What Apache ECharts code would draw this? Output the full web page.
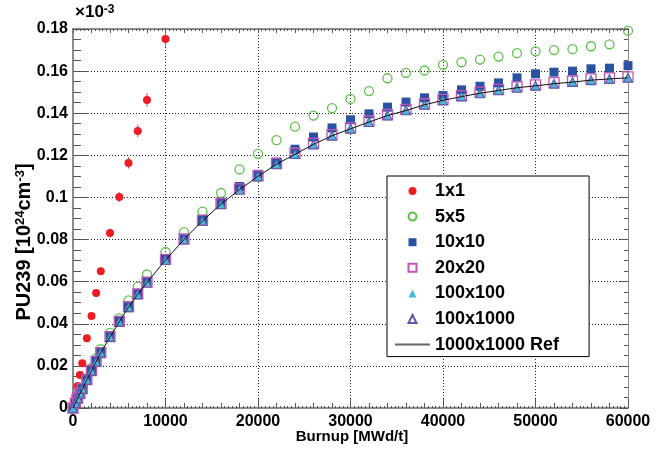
<!DOCTYPE html>
<html>
<head>
<meta charset="utf-8">
<script src="https://cdn.jsdelivr.net/npm/echarts@6/dist/echarts.min.js"></script>
<style>
html,body{margin:0;padding:0;background:#fff;}
#chart{width:661px;height:451px;}
</style>
</head>
<body>
<div id="chart"></div>
<script>
// ---- data ----
const burnup = [0,250,500,750,1000,1500,2000,2500,3000,4000,5000,6000,7000,8000,10000,
  12000,14000,16000,18000,20000,22000,24000,26000,28000,30000,32000,34000,36000,38000,40000,
  42000,44000,46000,48000,50000,52000,54000,56000,58000,60000];
const s1x1 = [0.0006,0.0057,0.0104,0.0157,0.0212,0.0331,0.0437,0.0546,0.0650,0.0831,0.1002,0.1164,0.1316,0.1463,0.1753];
const s1x1Err = [0.0002,0.0004,0.0006,0.0008,0.0009,0.0012,0.0014,0.0016,0.0018,0.0021,0.0024,0.0027,0.0030,0.0033,0.0036];
const s5x5 = [0,0.0025,0.0050,0.0073,0.0096,0.0142,0.0190,0.0235,0.0279,0.0357,0.0426,0.0511,0.0576,0.0634,0.0741,
  0.0835,0.0933,0.1021,0.1133,0.1207,0.1272,0.1336,0.1389,0.1424,0.1468,0.1505,0.1566,0.1592,0.1603,0.1630,
  0.1642,0.1655,0.1669,0.1685,0.1694,0.1700,0.1704,0.1718,0.1727,0.1792];
const s10x10 = [0,0.0023,0.0047,0.0070,0.0092,0.0135,0.0178,0.0222,0.0264,0.0340,0.0411,0.0481,0.0543,0.0600,0.0707,
  0.0803,0.0895,0.0977,0.1052,0.1110,0.1168,0.1229,0.1287,0.1330,0.1369,0.1397,0.1429,0.1453,0.1473,0.1484,
  0.1511,0.1528,0.1544,0.1568,0.1587,0.1595,0.1600,0.1611,0.1614,0.1626];
const s20x20 = [0,0.0023,0.0047,0.0070,0.0092,0.0135,0.0178,0.0221,0.0263,0.0339,0.0411,0.0481,0.0542,0.0598,0.0706,
  0.0803,0.0892,0.0972,0.1041,0.1104,0.1162,0.1210,0.1257,0.1298,0.1331,0.1363,0.1394,0.1418,0.1445,0.1466,
  0.1484,0.1500,0.1513,0.1526,0.1535,0.1545,0.1553,0.1563,0.1568,0.1573];
const s100x100 = [0,0.0023,0.0047,0.0069,0.0092,0.0134,0.0178,0.0220,0.0263,0.0338,0.0409,0.0480,0.0540,0.0597,0.0703,
  0.0801,0.0889,0.0969,0.1037,0.1101,0.1158,0.1205,0.1253,0.1294,0.1326,0.1359,0.1390,0.1413,0.1441,0.1462,
  0.1479,0.1496,0.1508,0.1522,0.1530,0.1541,0.1548,0.1558,0.1564,0.1568];
const s100x1000 = [0,0.0023,0.0046,0.0069,0.0091,0.0134,0.0177,0.0221,0.0262,0.0338,0.0410,0.0479,0.0541,0.0596,0.0704,
  0.0800,0.0890,0.0968,0.1038,0.1100,0.1158,0.1206,0.1252,0.1293,0.1327,0.1358,0.1389,0.1414,0.1440,0.1461,
  0.1480,0.1495,0.1509,0.1521,0.1531,0.1540,0.1549,0.1557,0.1563,0.1569];
const sRef = [0,0.0023,0.0047,0.0069,0.0091,0.0134,0.0177,0.0220,0.0262,0.0338,0.0409,0.0479,0.0540,0.0596,0.0703,
  0.0800,0.0889,0.0968,0.1037,0.1100,0.1158,0.1205,0.1252,0.1293,0.1326,0.1358,0.1389,0.1413,0.1440,0.1461,
  0.1479,0.1495,0.1508,0.1521,0.1530,0.1540,0.1548,0.1557,0.1563,0.1568];
const seriesNames = ['1x1','5x5','10x10','20x20','100x100','100x1000','1000x1000 Ref'];
const xTitle = 'Burnup [MWd/t]';

const pair = (ys) => ys.map((v, i) => [burnup[i], v]);
const FONT = "'Liberation Sans', Arial, sans-serif";

const chart = echarts.init(document.getElementById('chart'), null, {renderer: 'canvas'});

const dotted = {show: true, lineStyle: {color: '#222', width: 1, type: [1, 2]}};
const axisGray = '#8c8c8c';
const tickCol = '#555';
const SQ = 'path://M0,0L10,0L10,10L0,10Z';
const TRI = 'path://M5,0L10,10L0,10Z';
const BAR = 'path://M0,0L35,0L35,2L0,2Z';

const option = {
  animation: false,
  backgroundColor: '#fff',
  grid: {left: 73, right: 33, top: 29, bottom: 43, containLabel: false},
  xAxis: [
    {type: 'value', gridIndex: 0, position: 'bottom', min: 0, max: 60000, interval: 10000,
     axisLine: {show: true, onZero: false, lineStyle: {color: axisGray, width: 2}},
     axisTick: {show: true, inside: true, length: 9, lineStyle: {color: tickCol, width: 1}},
     minorTick: {show: true, splitNumber: 5, length: 5, lineStyle: {color: tickCol, width: 1}},
     splitLine: dotted,
     axisLabel: {show: true, margin: 6, color: '#000', fontFamily: FONT, fontWeight: 'bold', fontSize: 16,
       formatter: (v) => String(Math.round(v))}},
    {type: 'value', gridIndex: 0, position: 'bottom', min: 0, max: 60000, interval: 2000,
     axisLine: {show: false, onZero: false}, axisLabel: {show: false}, splitLine: {show: false},
     axisTick: {show: true, inside: true, length: 5, lineStyle: {color: tickCol}},
     minorTick: {show: true, splitNumber: 5, length: 2, lineStyle: {color: tickCol}}},
    {type: 'value', gridIndex: 0, position: 'top', min: 0, max: 60000, interval: 2000,
     axisLine: {show: true, onZero: false, lineStyle: {color: axisGray, width: 2}},
     axisLabel: {show: false}, splitLine: {show: false},
     axisTick: {show: true, inside: true, length: 4, lineStyle: {color: tickCol}},
     minorTick: {show: true, splitNumber: 5, length: 2, lineStyle: {color: tickCol}}}
  ],
  yAxis: [
    {type: 'value', gridIndex: 0, position: 'left', min: 0, max: 0.18, interval: 0.02,
     axisLine: {show: true, onZero: false, lineStyle: {color: axisGray, width: 2}},
     axisTick: {show: true, inside: true, length: 16, lineStyle: {color: tickCol, width: 1}},
     minorTick: {show: true, splitNumber: 4, length: 8, lineStyle: {color: tickCol, width: 1}},
     splitLine: dotted,
     axisLabel: {show: true, margin: 5, color: '#000', fontFamily: FONT, fontWeight: 'bold', fontSize: 16,
       formatter: (v) => String(+v.toFixed(3))}},
    {type: 'value', gridIndex: 0, position: 'right', min: 0, max: 0.18, interval: 0.02,
     axisLine: {show: true, onZero: false, lineStyle: {color: axisGray, width: 1}},
     axisLabel: {show: false}, splitLine: {show: false},
     axisTick: {show: true, inside: true, length: 8, lineStyle: {color: tickCol}},
     minorTick: {show: true, splitNumber: 4, length: 4, lineStyle: {color: tickCol}}}
  ],
  legend: {
    show: true, orient: 'vertical', left: 387, top: 176,
    backgroundColor: '#fff', borderColor: '#000', borderWidth: 1, borderRadius: 0,
    padding: [5, 30, 2, 8], itemGap: 5.6, itemWidth: 35, itemHeight: 8, symbolKeepAspect: true,
    textStyle: {color: '#000', fontFamily: FONT, fontWeight: 'bold', fontSize: 18, lineHeight: 20},
    data: [
      {name: seriesNames[0], icon: 'circle'},
      {name: seriesNames[1], icon: 'circle'},
      {name: seriesNames[2], icon: SQ},
      {name: seriesNames[3], icon: SQ},
      {name: seriesNames[4], icon: TRI},
      {name: seriesNames[5], icon: TRI},
      {name: seriesNames[6], icon: BAR, itemStyle: {color: '#666'}, lineStyle: {color: '#666', width: 2}}
    ]
  },
  graphic: [
    {type: 'text', left: 75, top: 4, z: 10,
     style: {text: '×10{sup|-3}', fill: '#000', font: "bold 17px 'Liberation Sans', Arial, sans-serif",
       rich: {sup: {fontSize: 12, fontWeight: 'bold', fontFamily: FONT, verticalAlign: 'top', lineHeight: 10, fill: '#000'}}}},
    {type: 'text', x: 352, y: 437, z: 10,
     style: {text: xTitle, fill: '#000', font: "bold 15px 'Liberation Sans', Arial, sans-serif",
       align: 'center', verticalAlign: 'middle'}},
    {type: 'text', x: 24, y: 242, rotation: Math.PI / 2, z: 10,
     style: {text: 'PU239 [10{sup|24}cm{sup|-3}]', fill: '#000',
       font: "bold 20px 'Liberation Sans', Arial, sans-serif", align: 'center', verticalAlign: 'middle',
       rich: {sup: {fontSize: 13, fontWeight: 'bold', fontFamily: FONT, verticalAlign: 'top', lineHeight: 11, fill: '#000'}}}}
  ],
  series: [
    {type: 'custom', name: '1x1 err', xAxisIndex: 0, yAxisIndex: 0, silent: true, z: 2,
     data: s1x1.map((v, i) => [burnup[i], v, s1x1Err[i]]),
     renderItem: (params, api) => {
       const x = api.value(0), y = api.value(1), e = api.value(2);
       const a = api.coord([x, y - e]), b = api.coord([x, y + e]);
       return {type: 'line', shape: {x1: a[0], y1: a[1], x2: b[0], y2: b[1]},
               style: {stroke: '#ee4040', lineWidth: 1}};
     }},
    {type: 'scatter', name: '1x1', xAxisIndex: 0, yAxisIndex: 0, z: 3,
     symbol: 'circle', symbolSize: 8, data: pair(s1x1),
     itemStyle: {color: '#ee1c24', opacity: 1}},
    {type: 'scatter', name: '5x5', xAxisIndex: 0, yAxisIndex: 0, z: 3,
     symbol: 'circle', symbolSize: 9, data: pair(s5x5),
     itemStyle: {color: 'rgba(0,0,0,0)', borderColor: '#5cc04a', borderWidth: 1.3, opacity: 1}},
    {type: 'scatter', name: '10x10', xAxisIndex: 0, yAxisIndex: 0, z: 3,
     symbol: 'rect', symbolSize: 9, data: pair(s10x10),
     itemStyle: {color: '#2a52a3', opacity: 1}},
    {type: 'scatter', name: '20x20', xAxisIndex: 0, yAxisIndex: 0, z: 3,
     symbol: 'rect', symbolSize: 10, data: pair(s20x20),
     itemStyle: {color: 'rgba(0,0,0,0)', borderColor: '#c454b6', borderWidth: 1.3, opacity: 1}},
    {type: 'scatter', name: '100x100', xAxisIndex: 0, yAxisIndex: 0, z: 3,
     symbol: 'triangle', symbolSize: 8, data: pair(s100x100),
     itemStyle: {color: '#4cb8d8', opacity: 1}},
    {type: 'scatter', name: '100x1000', xAxisIndex: 0, yAxisIndex: 0, z: 3,
     symbol: 'triangle', symbolSize: 9, data: pair(s100x1000),
     itemStyle: {color: 'rgba(0,0,0,0)', borderColor: '#5a5aaa', borderWidth: 1.1, opacity: 1}},
    {type: 'line', name: '1000x1000 Ref', xAxisIndex: 0, yAxisIndex: 0, z: 4,
     symbol: 'none', showSymbol: false, data: pair(sRef),
     lineStyle: {color: '#111', width: 1}, itemStyle: {color: '#555'}}
  ]
};
chart.setOption(option);
</script>
</body>
</html>
